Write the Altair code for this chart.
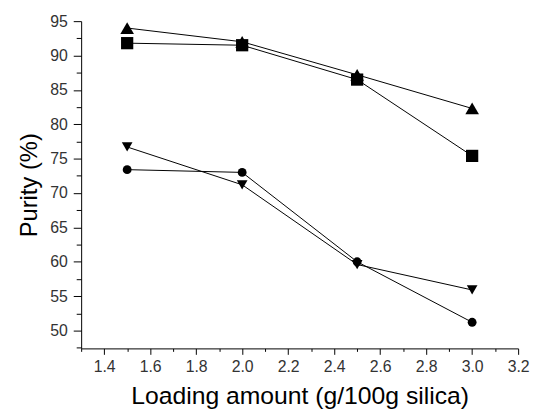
import altair as alt
import pandas as pd

loading = [1.5, 2.0, 2.5, 3.0]
s_up = [94.0, 92.0, 87.2, 82.3]
s_square = [91.8, 91.5, 86.5, 75.4]
s_down = [76.7, 71.2, 59.6, 55.9]
s_circle = [73.4, 73.0, 60.0, 51.2]

series = ["up", "square", "down", "circle"]
shapes = ["triangle-up", "square", "triangle-down", "circle"]
sizes = [190, 80, 190, 75]
values = [s_up, s_square, s_down, s_circle]

rows = []
for name, vals in zip(series, values):
    for x, y in zip(loading, vals):
        rows.append({"series": name, "x": x, "y": y})
df = pd.DataFrame(rows)

x_ticks = [round(1.3 + 0.1 * i, 1) for i in range(20)]
y_ticks = [47.5 + 2.5 * i for i in range(20)]

font = "Liberation Sans"
xenc = alt.X("x:Q", scale=alt.Scale(domain=[1.3, 3.2], nice=False, zero=False),
             axis=alt.Axis(values=x_ticks, title="Loading amount (g/100g silica)",
                           labelExpr="abs(round(datum.value*10)) % 2 == 0 ? format(datum.value, '.1f') : ''",
                           tickSize={"condition": {"test": "abs(round(datum.value*10)) % 2 == 0", "value": 6}, "value": 3},
                           grid=False, domainColor="black", tickColor="black",
                           labelFont=font, labelFontSize=16, labelColor="#333",
                           titleFont=font, titleFontSize=25, titleFontWeight="normal",
                           titleColor="black", titlePadding=10, labelPadding=4, labelFlush=False))
yenc = alt.Y("y:Q", scale=alt.Scale(domain=[47.4, 95], nice=False, zero=False),
             axis=alt.Axis(values=y_ticks, title="Purity (%)",
                           labelExpr="round(datum.value*2) % 10 == 0 ? format(datum.value, 'd') : ''",
                           tickSize={"condition": {"test": "round(datum.value*2) % 10 == 0", "value": 8}, "value": 5},
                           grid=False, domainColor="black", tickColor="black",
                           labelFont=font, labelFontSize=16, labelColor="#333",
                           titleFont=font, titleFontSize=24, titleFontWeight="normal",
                           titleColor="black", titlePadding=8, labelPadding=6, labelFlush=False))

lines = alt.Chart(df).mark_line(color="black", strokeWidth=1).encode(
    x=xenc, y=yenc, detail="series:N")
points = alt.Chart(df).mark_point(filled=True, color="black", opacity=1).encode(
    x=xenc, y=yenc,
    shape=alt.Shape("series:N", scale=alt.Scale(domain=series, range=shapes), legend=None),
    size=alt.Size("series:N", scale=alt.Scale(domain=series, range=sizes), legend=None))

chart = (lines + points).properties(
    width=442, height=331,
    autosize=alt.AutoSizeParams(type="none"),
    padding={"left": 74, "top": 11, "right": 12, "bottom": 60},
).configure_view(stroke=None)

chart.save("out.html", embed_options={"renderer": "svg", "actions": False})
